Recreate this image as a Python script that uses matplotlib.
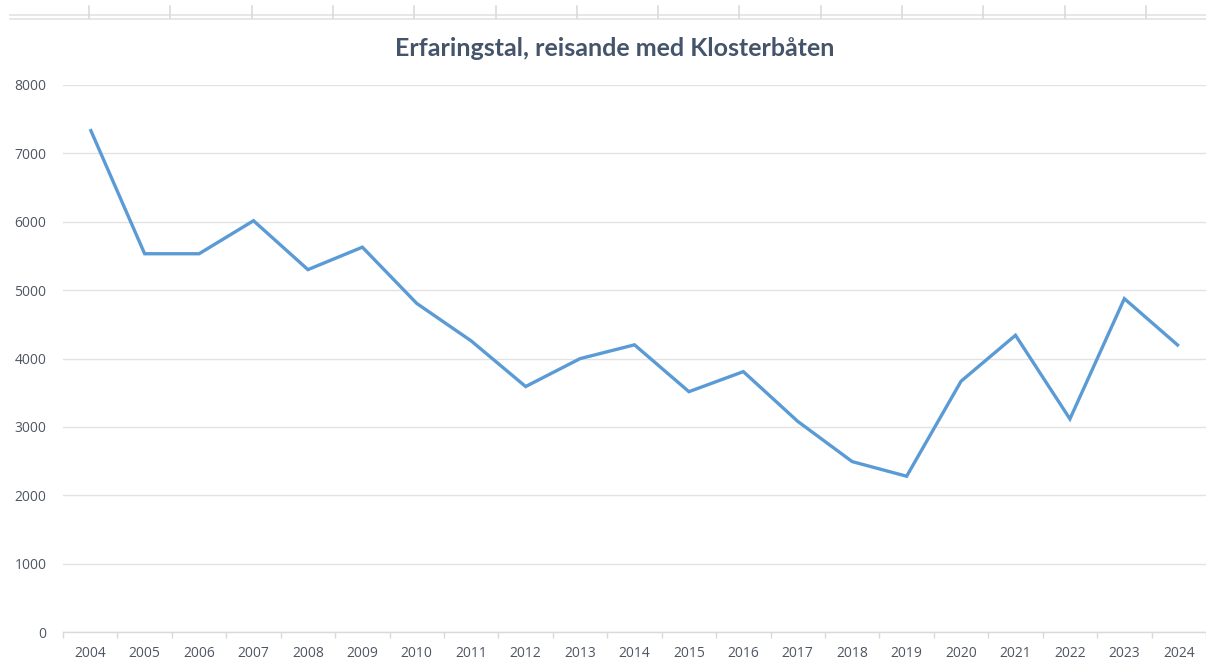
import matplotlib
matplotlib.use("Agg")
import matplotlib.pyplot as plt
from matplotlib.lines import Line2D
from matplotlib.ticker import FixedLocator

years = ["2004", "2005", "2006", "2007", "2008", "2009", "2010", "2011", "2012",
         "2013", "2014", "2015", "2016", "2017", "2018", "2019", "2020", "2021",
         "2022", "2023", "2024"]
passengers = [7355, 5532, 5532, 6015, 5300, 5628, 4805, 4257, 3590, 3998, 4200,
              3515, 3808, 3080, 2492, 2278, 3668, 4340, 3116, 4875, 4182]
y_ticks = [0, 1000, 2000, 3000, 4000, 5000, 6000, 7000, 8000]
title = "Erfaringstal, reisande med Klosterbåten"

W, H = 1206, 660
fig = plt.figure(figsize=(W / 100, H / 100), dpi=100)
fig.patch.set_facecolor("white")

# spreadsheet column borders along the top edge
grid_col = "#E3E3E3"
for yy in (15, 18.5):
    fig.add_artist(Line2D([10 / W, 1.0], [1 - yy / H, 1 - yy / H],
                          transform=fig.transFigure, color=grid_col, lw=1.2))
for k in range(14):
    xx = 89 + 81.3 * k
    fig.add_artist(Line2D([xx / W, xx / W], [1 - 6 / H, 1 - 18 / H],
                          transform=fig.transFigure, color="#DADADA", lw=1.2))

left, right, bottom, top = 63, 1206, 632, 85
ax = fig.add_axes([left / W, 1 - bottom / H, (right - left) / W, (bottom - top) / H])

x = list(range(len(years)))
ax.plot(x, passengers, color="#5B9BD5", lw=2.4, solid_joinstyle="miter",
        solid_capstyle="butt", zorder=3)

ax.set_xlim(-0.5, len(years) - 0.5)
ax.set_ylim(0, 8000)
ax.set_yticks(y_ticks)
ax.set_yticklabels([str(v) for v in y_ticks])
ax.set_xticks(x)
ax.set_xticklabels(years)
ax.xaxis.set_minor_locator(FixedLocator([i + 0.5 for i in range(-1, len(years))]))

ax.grid(axis="y", color="#E2E2E2", lw=1.0, zorder=0)
for s in ("top", "right", "left"):
    ax.spines[s].set_visible(False)
ax.spines["bottom"].set_color("#D9D9D9")
ax.spines["bottom"].set_linewidth(1.0)
ax.spines["bottom"].set_zorder(1)

font = "Open Sans"
ax.tick_params(axis="x", which="major", length=0, pad=10, labelsize=10,
               labelcolor="#4F5662")
ax.tick_params(axis="x", which="minor", length=4, width=1.0, color="#D9D9D9")
ax.tick_params(axis="y", length=0, pad=12, labelsize=10, labelcolor="#4F5662")
for lab in ax.get_xticklabels() + ax.get_yticklabels():
    lab.set_fontfamily(font)

fig.text(615 / W, 1 - 48.5 / H, title, ha="center", va="center",
         fontsize=18, fontweight="bold", color="#44546A", family="Lato")

fig.savefig("out.png", dpi=100, facecolor="white")
